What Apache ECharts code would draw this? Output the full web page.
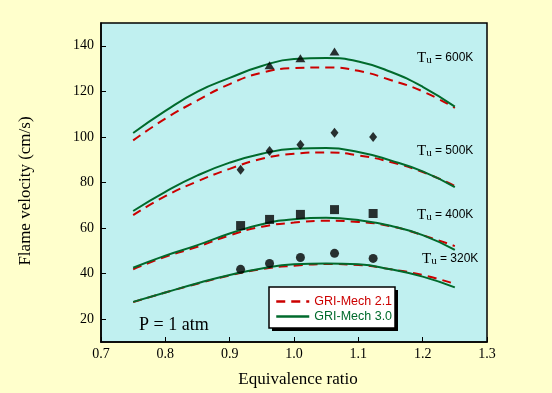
<!DOCTYPE html>
<html>
<head>
<meta charset="utf-8">
<script src="https://cdn.jsdelivr.net/npm/echarts@6/dist/echarts.min.js"></script>
<style>
html,body{margin:0;padding:0;background:#FFFFCC;}
#c{width:552px;height:393px;}
</style>
</head>
<body>
<div id="c"></div>
<script>
// Equivalence ratio grid for model curves
var phi = [0.75, 0.80, 0.85, 0.90, 0.95, 1.00, 1.05, 1.10, 1.15, 1.20, 1.25];
// GRI-Mech 3.0 (green solid)
var g600 = [101.7, 111.4, 119.9, 125.9, 131.1, 134.2, 134.6, 133.1, 128.6, 122.0, 113.3];
var g500 = [67.5, 75.9, 83.1, 88.7, 92.6, 94.8, 95.1, 93.4, 89.7, 84.9, 78.0];
var g400 = [42.6, 47.9, 52.5, 57.6, 61.7, 63.9, 64.5, 63.5, 61.0, 56.9, 50.4];
var g320 = [27.6, 31.7, 35.8, 39.4, 42.3, 44.1, 44.5, 44.1, 41.9, 38.7, 34.0];
// GRI-Mech 2.1 (red dashed)
var r600 = [98.5, 108.0, 116.0, 123.2, 128.2, 130.2, 130.5, 129.0, 125.0, 120.0, 112.7];
var r500 = [65.7, 74.0, 80.5, 86.0, 90.4, 92.6, 93.2, 91.9, 89.0, 84.6, 78.5];
var r400 = [41.9, 47.4, 51.8, 56.8, 60.6, 62.4, 63.2, 62.7, 60.8, 56.9, 52.1];
var r320 = [27.5, 31.7, 35.6, 39.2, 42.0, 43.5, 44.2, 43.8, 41.9, 39.4, 35.5];
// Experimental points
var phiExp = [0.917, 0.962, 1.010, 1.063, 1.123];
var phiExp600 = [0.962, 1.010, 1.063];
var e600 = [131.5, 134.5, 137.5];
var e500 = [85.6, 93.8, 96.6, 101.8, 100.0];
var e400 = [61.1, 63.8, 66.0, 68.1, 66.4];
var e320 = [41.9, 44.5, 47.1, 48.9, 46.7];
// Axis ticks
var xTicks = [0.7, 0.8, 0.9, 1.0, 1.1, 1.2, 1.3];
var yTicks = [20, 40, 60, 80, 100, 120, 140];
var tempLabels = ['600K', '500K', '400K', '320K'];

function zip(xs, ys) { return xs.map(function (x, i) { return [x, ys[i]]; }); }

var RED = '#CC0000', GREEN = '#006A2C';
function redLine(d) {
  return { name: 'GRI-Mech 2.1', type: 'line', data: zip(phi, d), symbol: 'none', smooth: true,
    lineStyle: { color: RED, width: 2, type: [9, 6] }, itemStyle: { color: RED }, z: 3, silent: true };
}
function greenLine(d) {
  return { name: 'GRI-Mech 3.0', type: 'line', data: zip(phi, d), symbol: 'none', smooth: true,
    lineStyle: { color: GREEN, width: 2 }, itemStyle: { color: GREEN }, z: 4, silent: true };
}
function pts(name, xs, ys, sym, size) {
  return { name: name, type: 'scatter', data: zip(xs, ys), symbol: sym, symbolSize: size,
    itemStyle: { color: '#000' }, z: 5, silent: true };
}

var chart = echarts.init(document.getElementById('c'), null, { renderer: 'canvas' });
var serif = 'Liberation Serif';
var sans = 'Liberation Sans';

function tLabel(txt, x, y) {
  return { type: 'text', left: x, top: y, z: 10,
    style: { text: '{t|T}{u|u}{v| = ' + txt + '}',
      rich: {
        t: { fontFamily: serif, fontSize: 15, fill: '#000', lineHeight: 16 },
        u: { fontFamily: serif, fontSize: 11, fill: '#000', padding: [5, 0, 0, 0], lineHeight: 16 },
        v: { fontFamily: sans, fontSize: 12, fill: '#000', lineHeight: 16 }
      } } };
}

chart.setOption({
  backgroundColor: '#FFFFCC',
  animation: false,
  grid: { left: 101, right: 65, top: 23, bottom: 51, show: true, backgroundColor: '#C0F0F0',
    borderColor: '#000', borderWidth: 1.5, containLabel: false },
  xAxis: {
    type: 'value', min: 0.7, max: 1.3, interval: 0.1,
    axisLine: { show: true, lineStyle: { color: '#000', width: 1.5 } },
    axisTick: { show: true, inside: true, length: 5, lineStyle: { color: '#000' } },
    axisLabel: { fontFamily: serif, fontSize: 14, color: '#000', margin: 5,
      customValues: xTicks, formatter: function (v) { return v.toFixed(1); } },
    splitLine: { show: false }
  },
  yAxis: {
    type: 'value', min: 10, max: 150, interval: 10,
    axisLine: { show: true, lineStyle: { color: '#000', width: 1.5 } },
    axisTick: { show: true, inside: true, length: 5, customValues: yTicks, lineStyle: { color: '#000' } },
    axisLabel: { fontFamily: serif, fontSize: 14, color: '#000', margin: 7, customValues: yTicks },
    splitLine: { show: false }
  },
  legend: {
    orient: 'vertical', left: 269, top: 287, z: 20,
    padding: [8, 5, 5, 6], itemGap: 2, itemWidth: 33, itemHeight: 14,
    itemStyle: { color: 'rgba(0,0,0,0)', borderWidth: 0, opacity: 0 },
    lineStyle: { width: 2.5 },
    data: [
      { name: 'GRI-Mech 2.1', textStyle: { color: RED } },
      { name: 'GRI-Mech 3.0', textStyle: { color: GREEN } }
    ],
    textStyle: { fontFamily: sans, fontSize: 12.5 }
  },
  graphic: [
    { type: 'rect', shape: { x: 272, y: 290, width: 126, height: 41 }, style: { fill: '#000' }, z: 15 },
    { type: 'rect', shape: { x: 269, y: 287, width: 126, height: 41 },
      style: { fill: '#fff', stroke: '#000', lineWidth: 1.5 }, z: 16 },
    tLabel(tempLabels[0], 417, 50),
    tLabel(tempLabels[1], 417, 143),
    tLabel(tempLabels[2], 417, 207),
    tLabel(tempLabels[3], 422, 251),
    { type: 'text', left: 139, top: 316, z: 10,
      style: { text: 'P = 1 atm', fontFamily: serif, fontSize: 18, fill: '#000' } },
    { type: 'text', x: 298, y: 380, z: 10,
      style: { text: 'Equivalence ratio', fontFamily: serif, fontSize: 17, fill: '#000',
        align: 'center', verticalAlign: 'middle' } },
    { type: 'text', x: 26, y: 191, rotation: Math.PI / 2, z: 10,
      style: { text: 'Flame velocity (cm/s)', fontFamily: serif, fontSize: 17, fill: '#000',
        align: 'center', verticalAlign: 'middle' } }
  ],
  series: [
    redLine(r600), redLine(r500), redLine(r400), redLine(r320),
    greenLine(g600), greenLine(g500), greenLine(g400), greenLine(g320),
    pts('600K data', phiExp600, e600, 'triangle', [10, 8]),
    pts('500K data', phiExp, e500, 'diamond', [8, 10]),
    pts('400K data', phiExp, e400, 'rect', 9),
    pts('320K data', phiExp, e320, 'circle', 9)
  ]
});
</script>
</body>
</html>
